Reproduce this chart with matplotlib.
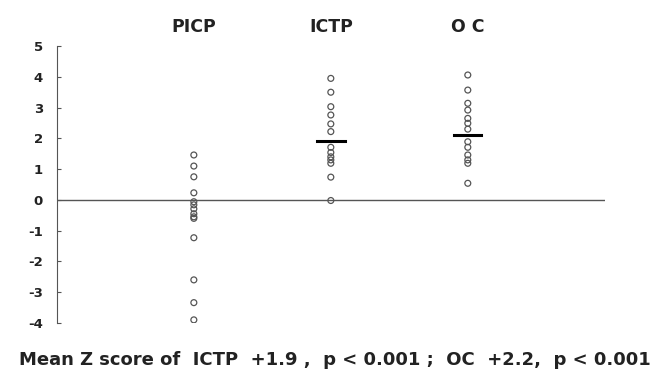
import matplotlib.pyplot as plt
import numpy as np

plt.rcParams['font.family'] = ['DejaVu Sans']

# Z scores
groups = ['PICP', 'ICTP', 'O C']
picp = [1.46, 1.10, 0.75, 0.23, -0.06, -0.16, -0.29, -0.45, -0.55, -0.60, -1.23, -2.60, -3.34, -3.90]
ictp = [3.95, 3.50, 3.03, 2.76, 2.47, 2.22, 1.71, 1.54, 1.40, 1.30, 1.19, 0.74, -0.02]
oc = [4.06, 3.57, 3.14, 2.92, 2.65, 2.49, 2.30, 1.89, 1.71, 1.46, 1.30, 1.19, 0.54]
means = [None, 1.9, 2.1]
yticks = [5, 4, 3, 2, 1, 0, -1, -2, -3, -4]

fig = plt.figure(figsize=(6.69, 3.84), dpi=100)
ax = fig.add_axes([0.085, 0.159, 0.819, 0.721])

for i, vals in enumerate([picp, ictp, oc]):
    x = np.full(len(vals), i + 1)
    ax.scatter(x, vals, s=18, facecolors='none', edgecolors='#555555', linewidths=0.9, zorder=3)
    if means[i] is not None:
        ax.plot([i + 1 - 0.1, i + 1 + 0.1], [means[i], means[i]], color='black', linewidth=2.2, zorder=4)

# zero line
ax.axhline(0, color='#555555', linewidth=1.0, zorder=1)

ax.set_xlim(0, 4)
ax.set_ylim(-4, 5)
ax.set_yticks(yticks)
ax.set_yticklabels([str(t) for t in yticks], fontsize=9.5, fontweight='bold', color='#222222')
ax.tick_params(axis='y', direction='in', length=3, color='#555555', pad=10)

# group names on top
ax.xaxis.tick_top()
ax.set_xticks([1, 2, 3])
ax.set_xticklabels(groups, fontsize=12.5, fontweight='bold', color='#222222')
ax.tick_params(axis='x', length=0, pad=7)

for side in ['top', 'right', 'bottom']:
    ax.spines[side].set_visible(False)
ax.spines['left'].set_color('#555555')

fig.text(0.5, 0.0625, 'Mean Z score of  ICTP  +1.9 ,  p < 0.001 ;  OC  +2.2,  p < 0.001',
         ha='center', va='center', fontsize=13, fontweight='bold', color='#222222')

plt.savefig('out.png', dpi=100)
plt.close()
